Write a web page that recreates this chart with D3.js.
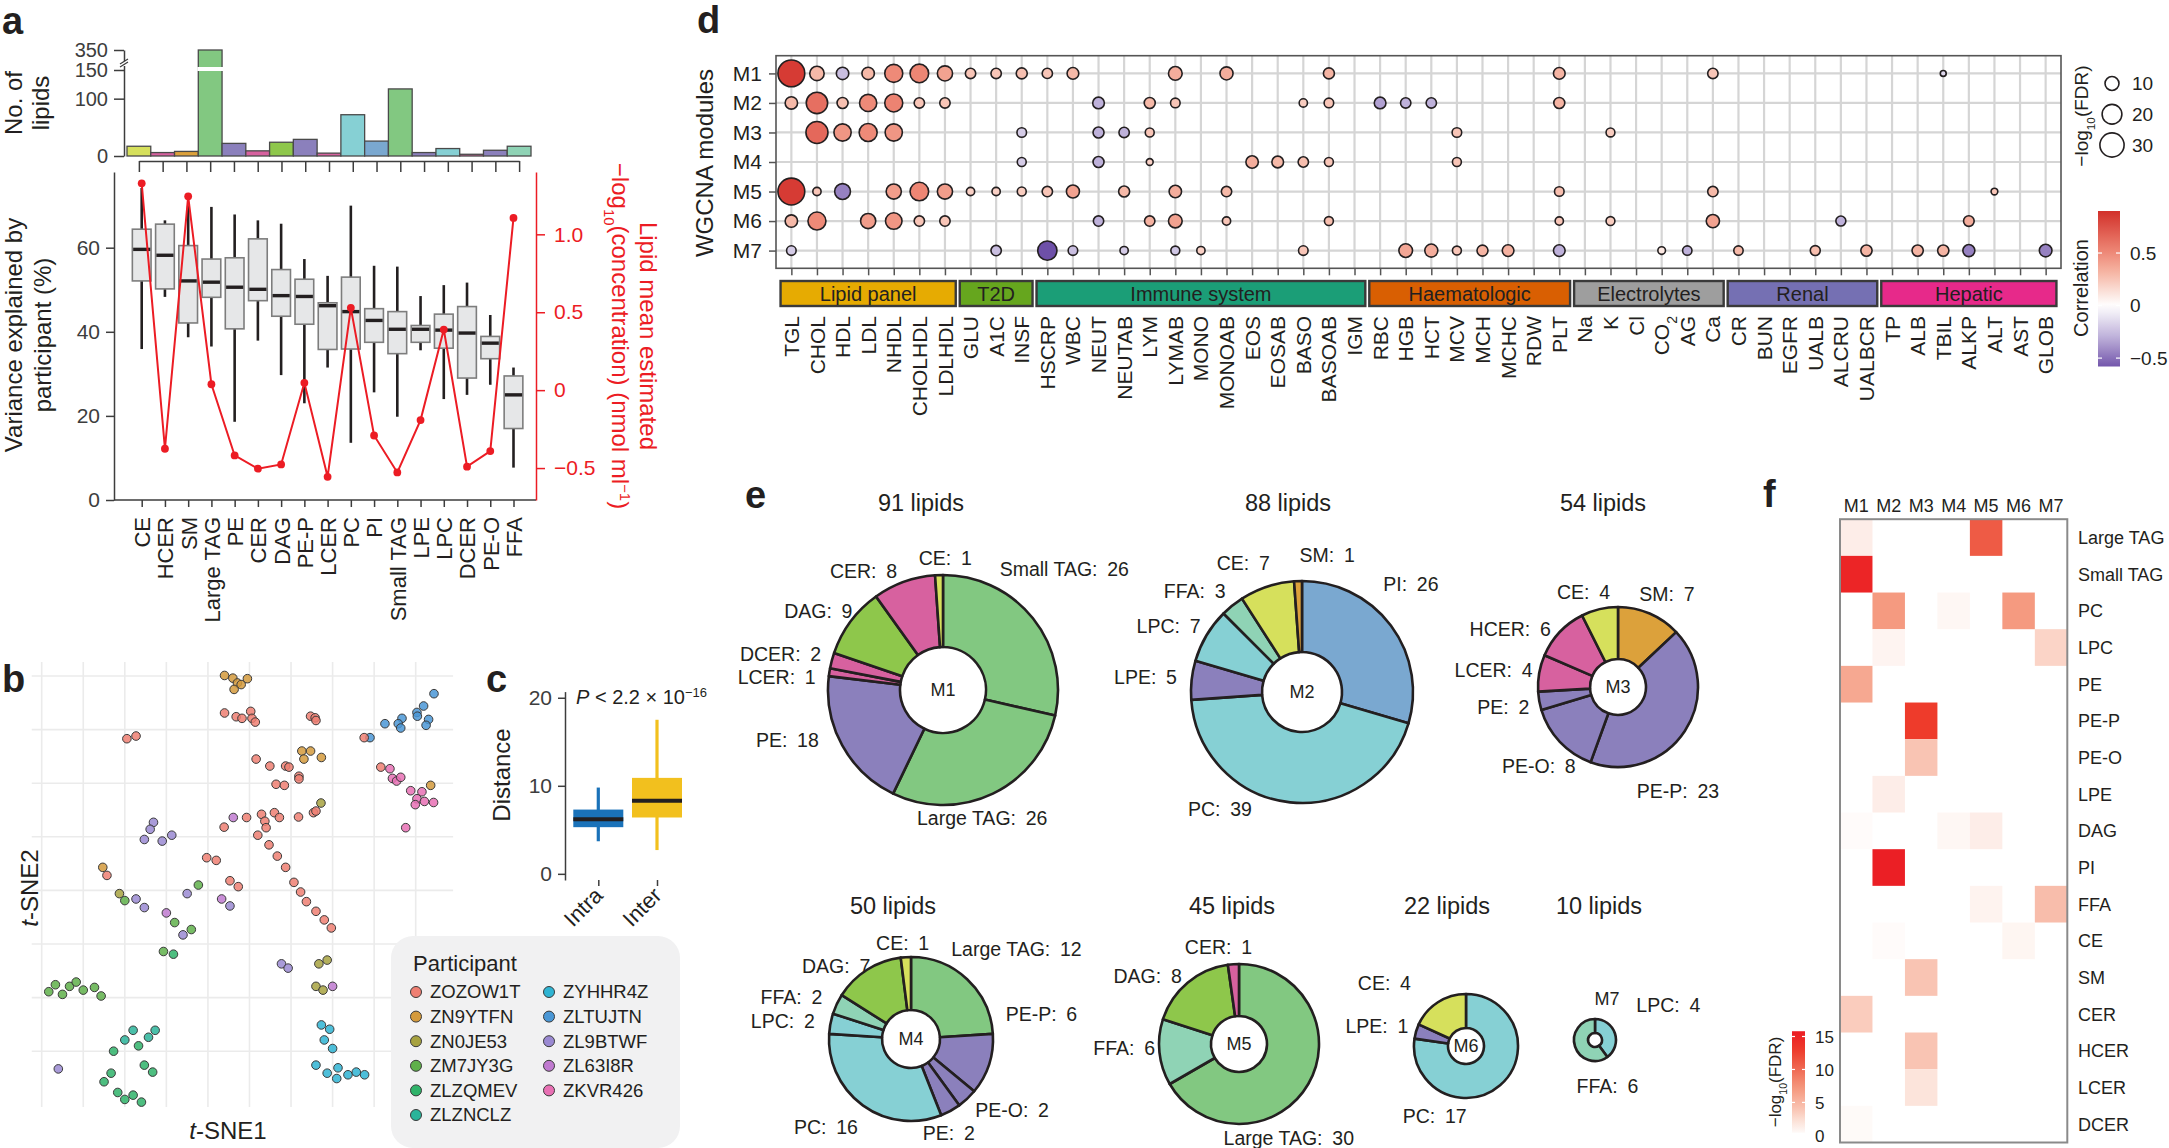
<!DOCTYPE html>
<html>
<head>
<meta charset="utf-8">
<script src="https://cdn.jsdelivr.net/npm/d3@7"></script>
<style>
  body { margin: 0; background: #fff; }
  svg { display: block; }
</style>
</head>
<body>
<script>
// ---------- data ----------
const lipidClasses = ["CE", "HCER", "SM", "Large TAG", "PE", "CER", "DAG", "PE-P", "LCER", "PC", "PI", "Small TAG", "LPE", "LPC", "DCER", "PE-O", "FFA"];
const lipidCounts = [17, 6, 8, 350, 22, 9, 24, 29, 5, 72, 26, 117, 6, 13, 3, 10, 17];
// [lower whisker, q1, median, q3, upper whisker]
const varianceBoxes = [
  [35.9, 52.1, 59.6, 64.4, 74.2], [48.3, 50.2, 58.2, 65.6, 66.5], [38.7, 42.1, 52.1, 60.5, 70.0],
  [36.5, 48.2, 51.8, 57.3, 69.7], [18.6, 40.7, 50.6, 57.6, 67.9], [37.9, 47.4, 50.1, 62.1, 66.5],
  [29.7, 43.7, 48.6, 54.8, 65.7], [23.0, 41.8, 48.4, 52.5, 57.3], [31.5, 35.8, 46.2, 46.9, 53.3],
  [13.6, 35.9, 44.8, 53.0, 70.0], [25.6, 37.5, 42.7, 45.5, 55.7], [19.8, 34.8, 40.6, 44.8, 55.5],
  [35.6, 37.5, 40.6, 41.5, 48.5], [24.0, 36.1, 40.4, 44.2, 51.1], [25.0, 29.0, 39.7, 46.0, 51.7],
  [27.4, 33.6, 37.3, 38.9, 44.0], [7.7, 17.0, 25.0, 29.5, 31.5]
];
const meanConc = [1.327, -0.376, 1.244, 0.038, -0.419, -0.504, -0.477, 0.047, -0.556, 0.528, -0.291, -0.528, -0.192, 0.389, -0.491, -0.391, 1.105];

const participants = ["ZOZOW1T", "ZN9YTFN", "ZN0JE53", "ZM7JY3G", "ZLZQMEV", "ZLZNCLZ", "ZYHHR4Z", "ZLTUJTN", "ZL9BTWF", "ZL63I8R", "ZKVR426"];
// [t-SNE1, t-SNE2, participant index]
const tsnePoints = [
  [-19.5, 28.3, 0], [-17.3, 28.8, 0],
  [4.0, 40.1, 1], [6.0, 39.6, 1], [7.1, 38.7, 1], [9.5, 39.5, 1], [8.0, 38.4, 1], [6.3, 37.5, 1],
  [4.0, 33.1, 0], [6.8, 32.4, 0], [8.2, 32.1, 0], [10.3, 33.4, 0], [10.6, 32.1, 0], [11.4, 31.4, 0],
  [24.7, 32.5, 0], [25.8, 32.2, 0], [26.0, 31.7, 0],
  [54.4, 36.7, 7], [51.9, 34.4, 7], [50.3, 33.2, 7], [50.4, 32.5, 7], [53.1, 31.9, 7], [52.5, 30.8, 7],
  [46.7, 32.1, 7], [45.8, 31.1, 7], [46.4, 30.3, 7], [42.6, 31.1, 7], [39.0, 28.5, 7],
  [37.6, 28.5, 0],
  [22.6, 26.0, 1], [24.7, 26.0, 1], [23.1, 24.5, 1], [27.3, 24.8, 1],
  [11.6, 24.5, 0], [14.9, 23.2, 0], [18.7, 23.2, 0], [19.5, 23.0, 0], [21.9, 21.3, 0], [21.9, 20.8, 0],
  [16.4, 19.8, 0], [18.4, 19.6, 0],
  [41.6, 23.0, 0], [43.8, 22.7, 10], [44.4, 20.9, 10], [45.4, 20.4, 10], [46.4, 21.1, 10],
  [53.6, 19.6, 1],
  [48.8, 18.6, 10], [51.5, 18.4, 10], [50.3, 17.1, 10], [49.9, 16.0, 10], [52.1, 16.6, 10], [54.3, 16.4, 10], [47.6, 11.7, 10],
  [27.2, 16.3, 2],
  [25.4, 14.5, 0], [26.0, 14.8, 0], [21.8, 13.7, 0],
  [9.3, 13.6, 0], [12.9, 14.2, 0], [13.7, 12.9, 0], [16.0, 14.5, 0], [17.2, 13.6, 0], [14.0, 11.7, 0], [3.9, 11.8, 0],
  [6.1, 13.6, 9],
  [-13.1, 12.7, 8], [-13.9, 11.4, 8], [-15.3, 9.5, 8], [-11.0, 9.2, 8], [-8.7, 10.3, 8],
  [-25.3, 4.3, 1], [-24.3, 2.8, 0], [-21.3, -0.6, 2], [-20.0, -1.9, 3],
  [-17.3, -1.6, 8], [-15.3, -3.2, 8], [-10.0, -4.2, 9], [-8.0, -6.0, 3], [-6.0, -8.3, 8], [-4.0, -7.3, 3],
  [-10.7, -11.4, 3], [-8.3, -11.9, 4], [-2.3, 1.0, 3], [-5.0, -0.6, 8],
  [-0.3, 6.1, 0], [2.0, 5.6, 0], [5.3, 1.8, 0], [7.3, 0.7, 0],
  [12.0, 10.3, 0], [14.7, 8.5, 0], [16.7, 6.4, 0], [18.7, 4.3, 0], [20.7, 1.5, 0], [22.3, -0.3, 0],
  [23.7, -2.1, 0], [26.0, -3.9, 0], [28.0, -5.5, 0], [29.7, -7.0, 0],
  [3.3, -1.6, 9], [5.3, -2.9, 8],
  [17.7, -13.7, 8], [19.3, -14.5, 8], [26.7, -13.7, 2], [28.7, -13.0, 2], [26.0, -17.9, 2], [27.7, -18.6, 2], [30.0, -17.9, 9],
  [-38.3, -18.9, 3], [-36.7, -17.6, 3], [-35.0, -19.4, 3], [-33.3, -17.9, 3], [-31.7, -17.1, 3], [-30.0, -18.6, 3],
  [-27.3, -18.1, 3], [-25.7, -19.7, 3],
  [-25.0, -35.7, 4], [-23.3, -34.1, 4], [-21.7, -37.7, 4], [-20.0, -39.0, 4], [-18.0, -38.2, 4], [-16.0, -39.5, 4],
  [-22.7, -30.0, 4], [-20.0, -27.9, 5], [-18.0, -26.1, 5], [-16.7, -29.0, 4], [-14.3, -27.4, 5], [-12.7, -26.1, 5],
  [-15.3, -32.6, 4], [-13.3, -33.9, 4],
  [-36.0, -33.3, 8],
  [27.3, -25.1, 6], [29.3, -25.9, 6], [28.0, -27.9, 6], [30.0, -29.5, 6], [26.0, -32.6, 6], [28.7, -34.1, 6],
  [31.3, -33.1, 6], [33.7, -34.4, 6], [35.7, -33.9, 6], [37.7, -34.4, 6], [31.0, -35.1, 6]
];

const distGroups = ["Intra", "Inter"];
const distBoxes = [[3.7, 5.3, 6.2, 7.3, 9.8], [2.7, 6.4, 8.3, 10.9, 17.5]];

const clinicalVars = ["TGL", "CHOL", "HDL", "LDL", "NHDL", "CHOLHDL", "LDLHDL", "GLU", "A1C", "INSF",
  "HSCRP", "WBC", "NEUT", "NEUTAB", "LYM", "LYMAB", "MONO", "MONOAB", "EOS", "EOSAB", "BASO", "BASOAB", "IGM",
  "RBC", "HGB", "HCT", "MCV", "MCH", "MCHC", "RDW", "PLT", "Na", "K", "Cl", "CO2", "AG", "Ca",
  "CR", "BUN", "EGFR", "UALB", "ALCRU", "UALBCR", "TP", "ALB", "TBIL", "ALKP", "ALT", "AST", "GLOB"];
const clinicalGroups = [
  ["Lipid panel", "TGL", "LDLHDL"], ["T2D", "GLU", "INSF"], ["Immune system", "HSCRP", "IGM"],
  ["Haematologic", "RBC", "PLT"], ["Electrolytes", "Na", "Ca"], ["Renal", "CR", "UALBCR"], ["Hepatic", "TP", "GLOB"]
];
const moduleNames = ["M1", "M2", "M3", "M4", "M5", "M6", "M7"];
// [module, variable, -log10(FDR), correlation]
const moduleAssoc = [
  ["M1", "TGL", 36.8, 0.85], ["M1", "CHOL", 10.6, 0.3], ["M1", "HDL", 7.9, -0.25], ["M1", "LDL", 7.9, 0.3],
  ["M1", "NHDL", 16.6, 0.5], ["M1", "CHOLHDL", 17.7, 0.52], ["M1", "LDLHDL", 11.8, 0.4], ["M1", "GLU", 5.5, 0.25],
  ["M1", "A1C", 5.5, 0.25], ["M1", "INSF", 6.2, 0.27], ["M1", "HSCRP", 5.4, 0.25], ["M1", "WBC", 7, 0.3],
  ["M1", "LYMAB", 9.6, 0.35], ["M1", "MONOAB", 8.7, 0.35], ["M1", "BASOAB", 6.2, 0.32], ["M1", "PLT", 7, 0.32],
  ["M1", "Ca", 5.5, 0.25], ["M1", "TBIL", 1.8, -0.15],
  ["M2", "TGL", 7.9, 0.3], ["M2", "CHOL", 23.4, 0.62], ["M2", "HDL", 6.2, 0.27], ["M2", "LDL", 15.2, 0.5],
  ["M2", "NHDL", 16.6, 0.53], ["M2", "CHOLHDL", 5.5, 0.25], ["M2", "LDLHDL", 5.5, 0.25], ["M2", "NEUT", 7, -0.3],
  ["M2", "LYM", 6.2, 0.3], ["M2", "LYMAB", 4.7, 0.25], ["M2", "BASO", 3.5, 0.22], ["M2", "BASOAB", 4.7, 0.25],
  ["M2", "RBC", 7, -0.35], ["M2", "HGB", 5.5, -0.3], ["M2", "HCT", 5.5, -0.3], ["M2", "PLT", 6.2, 0.32],
  ["M3", "CHOL", 24.8, 0.65], ["M3", "HDL", 15.2, 0.45], ["M3", "LDL", 16.6, 0.5], ["M3", "NHDL", 15.2, 0.45],
  ["M3", "INSF", 4.7, -0.2], ["M3", "NEUT", 6.2, -0.3], ["M3", "NEUTAB", 5.5, -0.3], ["M3", "LYM", 4.1, 0.25],
  ["M3", "MCV", 4.7, 0.25], ["M3", "K", 4, 0.22],
  ["M4", "INSF", 4.1, -0.2], ["M4", "NEUT", 6.2, -0.3], ["M4", "LYM", 2.4, 0.2], ["M4", "EOS", 7.9, 0.35],
  ["M4", "EOSAB", 7, 0.3], ["M4", "BASO", 5.5, 0.28], ["M4", "BASOAB", 4.1, 0.25], ["M4", "MCV", 4.1, 0.25],
  ["M5", "TGL", 36.8, 0.85], ["M5", "CHOL", 3.5, 0.25], ["M5", "HDL", 12.8, -0.45], ["M5", "NHDL", 11.8, 0.42],
  ["M5", "CHOLHDL", 17.7, 0.52], ["M5", "LDLHDL", 11.8, 0.42], ["M5", "GLU", 3.5, 0.2], ["M5", "A1C", 3.5, 0.2],
  ["M5", "INSF", 4.1, 0.22], ["M5", "HSCRP", 5.5, 0.25], ["M5", "WBC", 8.7, 0.4], ["M5", "NEUTAB", 6.2, 0.3],
  ["M5", "LYMAB", 7.9, 0.35], ["M5", "MONOAB", 5.5, 0.3], ["M5", "PLT", 4.7, 0.28], ["M5", "Ca", 5.5, 0.3],
  ["M5", "ALT", 2.3, 0.25],
  ["M6", "TGL", 7.9, 0.3], ["M6", "CHOL", 16.6, 0.5], ["M6", "LDL", 11.8, 0.42], ["M6", "NHDL", 14, 0.45],
  ["M6", "CHOLHDL", 5.5, 0.25], ["M6", "LDLHDL", 5.5, 0.25], ["M6", "NEUT", 5.5, -0.3], ["M6", "LYM", 5.5, 0.33],
  ["M6", "LYMAB", 9.6, 0.4], ["M6", "MONOAB", 3.5, 0.25], ["M6", "BASOAB", 4.1, 0.28], ["M6", "PLT", 3.5, 0.25],
  ["M6", "K", 4, 0.22], ["M6", "Ca", 9, 0.4], ["M6", "ALCRU", 5.1, -0.3], ["M6", "ALKP", 5.8, 0.35],
  ["M7", "TGL", 4.7, -0.2], ["M7", "A1C", 5.5, -0.25], ["M7", "HSCRP", 18.9, -0.6], ["M7", "WBC", 4.7, -0.25],
  ["M7", "NEUTAB", 3.5, -0.2], ["M7", "LYMAB", 4.1, -0.22], ["M7", "MONO", 3.5, 0.2], ["M7", "BASO", 4.7, 0.25],
  ["M7", "HGB", 9.6, 0.38], ["M7", "HCT", 8.7, 0.35], ["M7", "MCV", 4.1, 0.25], ["M7", "MCH", 6.2, 0.32],
  ["M7", "MCHC", 7, 0.33], ["M7", "PLT", 7, -0.3], ["M7", "CO2", 3, 0.1], ["M7", "AG", 4.5, -0.3],
  ["M7", "CR", 4.5, 0.3], ["M7", "UALB", 5.1, 0.28], ["M7", "UALBCR", 6.5, 0.32], ["M7", "ALB", 6.5, 0.32],
  ["M7", "TBIL", 6.5, 0.32], ["M7", "ALKP", 7.4, -0.45], ["M7", "GLOB", 8.2, -0.45]
];
const sizeLegendValues = [10, 20, 30];
const corrTicks = [-0.5, 0, 0.5];

// module composition, clockwise from 12 o'clock
const compM1 = [["Small TAG", 26], ["Large TAG", 26], ["PE", 18], ["LCER", 1], ["DCER", 2], ["DAG", 9], ["CER", 8], ["CE", 1]];
const compM2 = [["PI", 26], ["PC", 39], ["LPE", 5], ["LPC", 7], ["FFA", 3], ["CE", 7], ["SM", 1]];
const compM3 = [["SM", 7], ["PE-P", 23], ["PE-O", 8], ["PE", 2], ["LCER", 4], ["HCER", 6], ["CE", 4]];
const compM4 = [["Large TAG", 12], ["PE-P", 6], ["PE-O", 2], ["PE", 2], ["PC", 16], ["LPC", 2], ["FFA", 2], ["DAG", 7], ["CE", 1]];
const compM5 = [["Large TAG", 30], ["FFA", 6], ["DAG", 8], ["CER", 1]];
const compM6 = [["PC", 17], ["LPE", 1], ["CE", 4]];
const compM7 = [["LPC", 4], ["FFA", 6]];

const enrichClasses = ["Large TAG", "Small TAG", "PC", "LPC", "PE", "PE-P", "PE-O", "LPE", "DAG", "PI", "FFA", "CE", "SM", "CER", "HCER", "LCER", "DCER"];
// [lipid class, module, -log10(FDR)]
const enrichCells = [
  ["Large TAG", "M1", 1.3], ["Large TAG", "M5", 11], ["Small TAG", "M1", 15], ["PC", "M2", 7], ["PC", "M4", 0.6],
  ["PC", "M6", 7], ["LPC", "M2", 0.8], ["LPC", "M7", 3], ["PE", "M1", 6], ["PE-P", "M3", 13], ["PE-O", "M3", 4],
  ["LPE", "M2", 1.3], ["DAG", "M1", 0.3], ["DAG", "M4", 0.6], ["DAG", "M5", 1.3], ["PI", "M2", 15.5],
  ["FFA", "M5", 0.9], ["FFA", "M7", 4.5], ["CE", "M2", 0.3], ["CE", "M6", 0.7], ["SM", "M3", 4], ["CER", "M1", 3.5],
  ["HCER", "M3", 4], ["LCER", "M3", 2], ["DCER", "M1", 0.4]
];
const fdrTicks = [0, 5, 10, 15];

// ---------- styles ----------
const ink = "#231f20";
const axisInk = "#3d3d3d";
const red = "#ec1c24";
const classColor = {
  CE: "#d6e05c", HCER: "#d7619f", SM: "#dca13b", "Large TAG": "#82c881", PE: "#8b80bc", CER: "#d7619f",
  DAG: "#8ec74b", "PE-P": "#8b80bc", LCER: "#d7619f", PC: "#86d0d4", PI: "#7aa8d0", "Small TAG": "#82c881",
  LPE: "#8b80bc", LPC: "#86d0d4", DCER: "#d7619f", "PE-O": "#8b80bc", FFA: "#8fd3b5"
};
const participantColor = ["#ef7f72", "#d49a3c", "#a7a23f", "#5fb04a", "#2fb36a", "#2ab49a", "#2fb4d3", "#4a97d6", "#9a89d2", "#c07ad0", "#e870b4"];
const groupColor = {
  "Lipid panel": "#e6ab02", T2D: "#66a61e", "Immune system": "#1b9e77", Haematologic: "#d95f02",
  Electrolytes: "#9e9e9e", Renal: "#7570b3", Hepatic: "#e7298a"
};

const svg = d3.select("body").append("svg")
  .attr("width", 2169).attr("height", 1148).attr("viewBox", "0 0 2169 1148")
  .style("font-family", "'Liberation Sans', Arial, sans-serif");

function styleAxis(g, color, size) {
  g.attr("font-family", null).attr("font-size", size);
  g.select(".domain").attr("stroke", color).attr("stroke-width", 1.5);
  g.selectAll(".tick line").attr("stroke", color).attr("stroke-width", 1.5);
  g.selectAll(".tick text").attr("fill", color);
}

function letter(t, x, y) {
  svg.append("text").attr("x", x).attr("y", y).attr("font-size", 38).attr("font-weight", 700)
    .attr("fill", ink).text(t);
}

// rotated text; parts = [[string, "sub"|"sup"|null], ...]
function rotText(x, y, angle, parts, size, fill) {
  const t = svg.append("text").attr("transform", `translate(${x},${y}) rotate(${angle})`)
    .attr("text-anchor", "middle").attr("font-size", size).attr("fill", fill || ink);
  parts.forEach(([s, kind]) => {
    const sp = t.append("tspan").text(s);
    if (kind === "sub") sp.attr("baseline-shift", "sub").attr("font-size", size * 0.62);
    if (kind === "sup") sp.attr("baseline-shift", "super").attr("font-size", size * 0.62);
  });
  return t;
}

// ================= panel a =================
letter("a", 2, 34);
const xTop = d3.scaleBand().domain(lipidClasses).range([127, 531]);
const yTop = d3.scaleLinear().domain([0, 150, 350]).range([156, 70, 50]);
const topBars = svg.append("g");
topBars.selectAll("rect").data(lipidClasses).join("rect")
  .attr("x", d => xTop(d)).attr("width", xTop.bandwidth())
  .attr("y", (d, i) => yTop(lipidCounts[i]))
  .attr("height", (d, i) => yTop(0) - yTop(lipidCounts[i]))
  .attr("fill", d => classColor[d]).attr("stroke", "#4a4a4a").attr("stroke-width", 1.3);
topBars.selectAll("rect.gap").data(lipidClasses.filter((d, i) => lipidCounts[i] > 150)).join("rect")
  .attr("class", "gap").attr("x", d => xTop(d) - 1).attr("width", xTop.bandwidth() + 2)
  .attr("y", yTop(150) - 3).attr("height", 4).attr("fill", "#fff");

const gTopY = svg.append("g").attr("transform", "translate(124,0)")
  .call(d3.axisLeft(yTop).tickValues([0, 100, 150, 350]).tickSize(10).tickSizeOuter(0).tickPadding(6));
styleAxis(gTopY, axisInk, 20);
gTopY.append("rect").attr("x", -4).attr("y", yTop(150) - 9).attr("width", 8).attr("height", 5).attr("fill", "#fff");
gTopY.append("path").attr("d", `M-4,${yTop(150) - 3} L4,${yTop(150) - 8} M-4,${yTop(150) - 6} L4,${yTop(150) - 11}`)
  .attr("stroke", axisInk).attr("stroke-width", 1.3).attr("fill", "none");

const bw = xTop.bandwidth();
const xTopPts = d3.scalePoint().domain(lipidClasses)
  .range([xTop(lipidClasses[0]) + bw / 2, xTop(lipidClasses[lipidClasses.length - 1]) + bw / 2]);
const gTopX = svg.append("g").attr("transform", "translate(0,161)")
  .call(d3.axisBottom(xTopPts).tickSize(11).tickSizeOuter(0).tickFormat(""));
styleAxis(gTopX, axisInk, 21);

rotText(21.5, 103, -90, [["No. of", null]], 24);
rotText(48.5, 103, -90, [["lipids", null]], 24);

// boxplots
const xBox = d3.scalePoint().domain(lipidClasses).range([141.7, 513.5]);
const yVar = d3.scaleLinear().domain([0, 78]).range([500, 172]);
const yRed = d3.scaleLinear().domain([-0.705, 1.4]).range([500, 172]);

const gVarY = svg.append("g").attr("transform", "translate(114,0)")
  .call(d3.axisLeft(yVar).tickValues([0, 20, 40, 60]).tickSize(8).tickSizeOuter(0).tickPadding(6));
styleAxis(gVarY, axisInk, 21);
svg.append("line").attr("x1", 114).attr("x2", 536).attr("y1", yVar(0)).attr("y2", yVar(0))
  .attr("stroke", axisInk).attr("stroke-width", 1.5);
const gVarX = svg.append("g").attr("transform", `translate(0,${yVar(0)})`)
  .call(d3.axisBottom(xBox).tickSize(7).tickSizeOuter(0));
styleAxis(gVarX, axisInk, 22);
gVarX.select(".domain").remove();
gVarX.selectAll(".tick text").attr("fill", ink)
  .attr("transform", "rotate(-90)").attr("text-anchor", "end")
  .attr("x", -17).attr("y", 0).attr("dy", "0.36em");

const boxW = 18.7;
const gBoxes = svg.append("g");
lipidClasses.forEach((c, i) => {
  const [lo, q1, med, q3, hi] = varianceBoxes[i];
  const cx = xBox(c);
  gBoxes.append("line").attr("x1", cx).attr("x2", cx).attr("y1", yVar(lo)).attr("y2", yVar(hi))
    .attr("stroke", ink).attr("stroke-width", 2.6);
  gBoxes.append("rect").attr("x", cx - boxW / 2).attr("width", boxW)
    .attr("y", yVar(q3)).attr("height", yVar(q1) - yVar(q3))
    .attr("fill", "#e6e7e8").attr("stroke", "#7d7d7d").attr("stroke-width", 1.6);
  gBoxes.append("line").attr("x1", cx - boxW / 2 + 0.8).attr("x2", cx + boxW / 2 - 0.8)
    .attr("y1", yVar(med)).attr("y2", yVar(med)).attr("stroke", ink).attr("stroke-width", 3.4);
});

const redLine = d3.line().x((d, i) => xBox(lipidClasses[i])).y(d => yRed(d));
svg.append("path").datum(meanConc).attr("d", redLine).attr("fill", "none")
  .attr("stroke", red).attr("stroke-width", 2);
svg.append("g").selectAll("circle").data(meanConc).join("circle")
  .attr("cx", (d, i) => xBox(lipidClasses[i])).attr("cy", d => yRed(d)).attr("r", 3.9).attr("fill", red);

const gRed = svg.append("g").attr("transform", "translate(536,0)")
  .call(d3.axisRight(yRed).tickValues([-0.5, 0, 0.5, 1.0]).tickSize(9).tickSizeOuter(0).tickPadding(9)
    .tickFormat(v => v === 0 ? "0" : d3.format(".1f")(v)));
styleAxis(gRed, red, 21);

rotText(21.5, 335, -90, [["Variance explained by", null]], 24);
rotText(50.5, 335, -90, [["participant (%)", null]], 24);
rotText(639.5, 336, 90, [["Lipid mean estimated", null]], 24, red);
rotText(611.5, 336, 90, [["\u2212log", null], ["10", "sub"], ["(concentration) (nmol ml", null], ["\u22121", "sup"], [")", null]], 24, red);

// ================= panel b =================
letter("b", 2, 692);
const bX = d3.scaleLinear().domain([-40, 50]).range([41.7, 415.7]);
const bY = d3.scaleLinear().domain([40, -30]).range([676, 1051.2]);
const bLeft = bX(-42.4), bRight = bX(59), bTop = bY(42.6), bBottom = bY(-40.4);
const gGrid = svg.append("g").attr("stroke", "#ebebeb").attr("stroke-width", 1.6);
gGrid.selectAll("line.v").data(d3.range(-40, 51, 10)).join("line").attr("class", "v")
  .attr("x1", d => bX(d)).attr("x2", d => bX(d)).attr("y1", bTop).attr("y2", bBottom);
gGrid.selectAll("line.h").data(d3.range(-30, 41, 10)).join("line").attr("class", "h")
  .attr("x1", bLeft).attr("x2", bRight).attr("y1", d => bY(d)).attr("y2", d => bY(d));
svg.append("g").selectAll("circle").data(tsnePoints).join("circle")
  .attr("cx", d => bX(d[0])).attr("cy", d => bY(d[1])).attr("r", 4.3)
  .attr("fill", d => participantColor[d[2]]).attr("fill-opacity", 0.85)
  .attr("stroke", "#3a3a3a").attr("stroke-width", 1);

const t1 = svg.append("text").attr("x", 228).attr("y", 1139).attr("text-anchor", "middle").attr("font-size", 24).attr("fill", ink);
t1.append("tspan").attr("font-style", "italic").text("t");
t1.append("tspan").text("-SNE1");
const t2 = svg.append("text").attr("transform", "translate(38,888) rotate(-90)").attr("text-anchor", "middle").attr("font-size", 24).attr("fill", ink);
t2.append("tspan").attr("font-style", "italic").text("t");
t2.append("tspan").text("-SNE2");

const leg = svg.append("g");
leg.append("rect").attr("x", 391).attr("y", 936).attr("width", 289).attr("height", 212).attr("rx", 22)
  .attr("fill", "#f1f1f2");
leg.append("text").attr("x", 413).attr("y", 971).attr("font-size", 22).attr("fill", ink).text("Participant");
participants.forEach((p, i) => {
  const col = i < 6 ? 0 : 1;
  const row = i < 6 ? i : i - 6;
  const cx = col === 0 ? 416 : 549;
  const cy = 992 + row * 24.6;
  leg.append("circle").attr("cx", cx).attr("cy", cy).attr("r", 5.5)
    .attr("fill", participantColor[i]).attr("stroke", "#3a3a3a").attr("stroke-width", 1);
  leg.append("text").attr("x", cx + 14).attr("y", cy).attr("dy", "0.35em").attr("font-size", 18.5)
    .attr("fill", ink).text(p);
});

// ================= panel c =================
letter("c", 486, 692);
const cY = d3.scaleLinear().domain([-0.7, 20.7]).range([880, 691.6]);
const cX = d3.scalePoint().domain(distGroups).range([598.3, 657]);
const gCY = svg.append("g").attr("transform", "translate(565,0)")
  .call(d3.axisLeft(cY).tickValues([0, 10, 20]).tickSize(7).tickSizeOuter(0).tickPadding(6));
styleAxis(gCY, axisInk, 21);
const gCX = svg.append("g").attr("transform", "translate(0,880)")
  .call(d3.axisBottom(cX).tickSize(6).tickSizeOuter(0));
styleAxis(gCX, axisInk, 22);
gCX.select(".domain").remove();
gCX.selectAll(".tick text").attr("fill", ink).attr("text-anchor", "end")
  .attr("transform", "rotate(-45)").attr("x", -8).attr("y", 8).attr("dy", "0.35em");
const distColor = ["#1a72b9", "#f2c01e"];
distGroups.forEach((gname, i) => {
  const [lo, q1, med, q3, hi] = distBoxes[i];
  const cx = cX(gname), w = 50;
  svg.append("line").attr("x1", cx).attr("x2", cx).attr("y1", cY(lo)).attr("y2", cY(hi))
    .attr("stroke", distColor[i]).attr("stroke-width", 3.2);
  svg.append("rect").attr("x", cx - w / 2).attr("width", w).attr("y", cY(q3)).attr("height", cY(q1) - cY(q3))
    .attr("fill", distColor[i]);
  svg.append("line").attr("x1", cx - w / 2).attr("x2", cx + w / 2).attr("y1", cY(med)).attr("y2", cY(med))
    .attr("stroke", ink).attr("stroke-width", 4);
});
const pTxt = svg.append("text").attr("x", 576).attr("y", 704).attr("font-size", 20).attr("fill", ink);
pTxt.append("tspan").attr("font-style", "italic").text("P");
pTxt.append("tspan").text(" < 2.2 \u00d7 10");
pTxt.append("tspan").attr("baseline-shift", "super").attr("font-size", 13).text("\u221216");
rotText(510, 775, -90, [["Distance", null]], 24);

// ================= panel d =================
letter("d", 697, 33);
const dX = d3.scalePoint().domain(clinicalVars).range([776, 2061]).padding(0.6);
const dY = d3.scalePoint().domain(moduleNames).range([55.7, 268.3]).padding(0.6);
const dTop = 55.7, dBottom = 268.3, dLeft = 776, dRight = 2061;
const dColor = d3.scaleLinear().domain([-0.6, -0.3, 0, 0.3, 0.5, 0.9])
  .range(["#6e50a8", "#beb1da", "#ffffff", "#f6b9a8", "#ee8a78", "#d2302a"]);
const dSize = d3.scaleSqrt().domain([0, 30]).range([0, 12.1]);

const gD = svg.append("g");
gD.selectAll("line.v").data(clinicalVars).join("line").attr("class", "v")
  .attr("x1", d => dX(d)).attr("x2", d => dX(d)).attr("y1", dTop).attr("y2", dBottom)
  .attr("stroke", "#d5d5d5").attr("stroke-width", 2.2);
gD.selectAll("line.h").data(moduleNames).join("line").attr("class", "h")
  .attr("x1", dLeft).attr("x2", dRight).attr("y1", d => dY(d)).attr("y2", d => dY(d))
  .attr("stroke", "#d5d5d5").attr("stroke-width", 2.2);
gD.append("rect").attr("x", dLeft).attr("y", dTop).attr("width", dRight - dLeft).attr("height", dBottom - dTop)
  .attr("fill", "none").attr("stroke", "#555").attr("stroke-width", 1.6);
const gDY = svg.append("g").attr("transform", `translate(${dLeft},0)`)
  .call(d3.axisLeft(dY).tickSize(7).tickPadding(7));
styleAxis(gDY, "#555", 21);
gDY.select(".domain").remove();
gDY.selectAll(".tick text").attr("fill", ink);
const gDX = svg.append("g").attr("transform", `translate(0,${dBottom})`)
  .call(d3.axisBottom(dX).tickSize(7).tickFormat(""));
styleAxis(gDX, "#555", 21);
gDX.select(".domain").remove();

gD.selectAll("circle").data(moduleAssoc).join("circle")
  .attr("cx", d => dX(d[1])).attr("cy", d => dY(d[0])).attr("r", d => dSize(d[2]))
  .attr("fill", d => dColor(d[3])).attr("stroke", ink).attr("stroke-width", 1.6);

const step = dX.step();
clinicalGroups.forEach(([name, first, last]) => {
  const x0 = dX(first) - step / 2 + 2, x1 = dX(last) + step / 2 - 2;
  svg.append("rect").attr("x", x0).attr("y", 281).attr("width", x1 - x0).attr("height", 25)
    .attr("fill", groupColor[name]).attr("stroke", "#3a3a3a").attr("stroke-width", 2.4);
  svg.append("text").attr("x", (x0 + x1) / 2).attr("y", 293.5).attr("dy", "0.36em").attr("text-anchor", "middle")
    .attr("font-size", 20).attr("fill", ink).text(name);
});
const gLab = svg.append("g");
clinicalVars.forEach(v => {
  const t = gLab.append("text").attr("transform", `translate(${dX(v)},316) rotate(-90)`)
    .attr("text-anchor", "end").attr("dy", "0.36em").attr("font-size", 21).attr("fill", ink);
  if (v === "CO2") {
    t.append("tspan").text("CO");
    t.append("tspan").attr("baseline-shift", "sub").attr("font-size", 14).text("2");
  } else t.text(v);
});
rotText(713, 163, -90, [["WGCNA modules", null]], 24);

// size legend
const sizeY = d3.scalePoint().domain(sizeLegendValues).range([83.5, 145]);
sizeLegendValues.forEach(v => {
  svg.append("circle").attr("cx", 2112).attr("cy", sizeY(v)).attr("r", dSize(v))
    .attr("fill", "#fff").attr("stroke", ink).attr("stroke-width", 1.6);
  svg.append("text").attr("x", 2132).attr("y", sizeY(v)).attr("dy", "0.36em").attr("font-size", 19)
    .attr("fill", ink).text(v);
});
rotText(2088, 116, -90, [["\u2212log", null], ["10", "sub"], ["(FDR)", null]], 19);

// colour bar
const cbD = d3.scaleLinear().domain([-0.58, 0.9]).range([366.5, 211]);
const defs = svg.append("defs");
const gradD = defs.append("linearGradient").attr("id", "gradD").attr("x1", 0).attr("x2", 0).attr("y1", 1).attr("y2", 0);
d3.range(0, 1.0001, 0.05).forEach(t => {
  const v = -0.58 + t * 1.48;
  gradD.append("stop").attr("offset", t).attr("stop-color", dColor(v));
});
svg.append("rect").attr("x", 2098).attr("y", cbD(0.9)).attr("width", 22).attr("height", cbD(-0.58) - cbD(0.9))
  .attr("fill", "url(#gradD)");
corrTicks.forEach(v => {
  svg.append("line").attr("x1", 2098).attr("x2", 2102).attr("y1", cbD(v)).attr("y2", cbD(v)).attr("stroke", "#fff").attr("stroke-width", 1.2);
  svg.append("line").attr("x1", 2116).attr("x2", 2120).attr("y1", cbD(v)).attr("y2", cbD(v)).attr("stroke", "#fff").attr("stroke-width", 1.2);
  svg.append("text").attr("x", 2130).attr("y", cbD(v)).attr("dy", "0.36em").attr("font-size", 19).attr("fill", ink)
    .text(v === 0 ? "0" : d3.format(".1f")(v));
});
rotText(2088, 288, -90, [["Correlation", null]], 20);

// ================= panel e =================
letter("e", 745, 508);
const donutLayout = {
  M1: { comp: compM1, cx: 943, cy: 690, R: 115, r: 43, tx: 921, ty: 511 },
  M2: { comp: compM2, cx: 1302, cy: 692, R: 111, r: 40, tx: 1288, ty: 511 },
  M3: { comp: compM3, cx: 1618, cy: 687, R: 80, r: 28, tx: 1603, ty: 511 },
  M4: { comp: compM4, cx: 911, cy: 1039, R: 82, r: 29, tx: 893, ty: 914 },
  M5: { comp: compM5, cx: 1239, cy: 1044, R: 80, r: 28, tx: 1232, ty: 914 },
  M6: { comp: compM6, cx: 1466, cy: 1046, R: 52, r: 18, tx: 1447, ty: 914 },
  M7: { comp: compM7, cx: 1595, cy: 1040, R: 21, r: 7, tx: 1599, ty: 914 }
};
// label placement: [angle (deg, clockwise from top), distance from centre, anchor]
const labelPlace = {
  "M1|Small TAG": [25, 134, "start"], "M1|Large TAG": [163, 134, "middle"], "M1|PE": [248, 134, "end"],
  "M1|LCER": [276, 128, "end"], "M1|DCER": [286.5, 127, "end"], "M1|DAG": [311, 120, "end"],
  "M1|CER": [339, 128, "end"], "M1|CE": [1, 132, "middle"],
  "M2|PI": [37, 135, "start"], "M2|PC": [215, 143, "middle"], "M2|LPE": [277, 126, "end"],
  "M2|LPC": [303, 121, "end"], "M2|FFA": [323, 127, "end"], "M2|CE": [346, 133, "end"], "M2|SM": [359, 137, "start"],
  "M3|CE": [340, 101, "middle"], "M3|SM": [13, 95, "start"], "M3|HCER": [311, 89, "end"], "M3|LCER": [281, 87, "end"],
  "M3|PE": [257, 91, "end"], "M3|PE-O": [225, 112, "middle"], "M3|PE-P": [150, 120, "middle"],
  "M4|CE": [355, 96, "middle"], "M4|Large TAG": [24, 99, "start"], "M4|PE-P": [75, 98, "start"],
  "M4|PE-O": [138, 96, "start"], "M4|PE": [158, 101, "middle"], "M4|PC": [211, 103, "end"],
  "M4|DAG": [331, 84, "end"],
  "M5|CER": [348, 99, "middle"], "M5|DAG": [320, 89, "end"], "M5|FFA": [267, 84, "end"], "M5|Large TAG": [152, 106, "middle"],
  "M6|CE": [319, 84, "end"], "M6|LPE": [289, 61, "end"], "M6|PC": [204, 77, "middle"],
  "M7|LPC": [50, 54, "start"], "M7|FFA": [165, 48, "middle"]
};
const pie = d3.pie().sort(null).value(d => d[1]);
moduleNames.forEach(m => {
  const L = donutLayout[m];
  const arcs = pie(L.comp);
  const arc = d3.arc().innerRadius(L.r).outerRadius(L.R);
  const g = svg.append("g").attr("transform", `translate(${L.cx},${L.cy})`);
  g.selectAll("path").data(arcs).join("path").attr("d", arc)
    .attr("fill", d => classColor[d.data[0]]).attr("stroke", ink).attr("stroke-width", 2.6).attr("stroke-linejoin", "round");
  const total = d3.sum(L.comp, d => d[1]);
  svg.append("text").attr("x", L.tx).attr("y", L.ty).attr("text-anchor", "middle").attr("font-size", 23.5)
    .attr("fill", ink).text(`${total} lipids`);
  if (L.R > 30) {
    g.append("text").attr("dy", "0.36em").attr("text-anchor", "middle").attr("font-size", 18).attr("fill", ink).text(m);
  } else {
    g.append("text").attr("x", 12).attr("y", -L.R - 14).attr("text-anchor", "middle").attr("font-size", 18).attr("fill", ink).text(m);
  }
  arcs.forEach(a => {
    const p = labelPlace[`${m}|${a.data[0]}`];
    const ang = p ? p[0] * Math.PI / 180 : (a.startAngle + a.endAngle) / 2;
    const dist = p ? p[1] : L.R + 16;
    const s = Math.sin(ang);
    const anchor = p ? p[2] : (s > 0.35 ? "start" : s < -0.35 ? "end" : "middle");
    g.append("text").attr("x", Math.sin(ang) * dist).attr("y", -Math.cos(ang) * dist).attr("dy", "0.36em")
      .attr("text-anchor", anchor).attr("font-size", 19.5).attr("fill", ink)
      .text(`${a.data[0]}:\u2002${a.data[1]}`);
  });
});

// ================= panel f =================
letter("f", 1763, 507);
const fX = d3.scaleBand().domain(moduleNames).range([1840, 2067.3]);
const fY = d3.scaleBand().domain(enrichClasses).range([519.2, 1142.5]);
const fColor = d3.scaleLinear().domain([0, 2, 4, 7, 11, 13, 15.8])
  .range(["#ffffff", "#fce4db", "#f9c4b3", "#f59a80", "#ee5b45", "#ee3b2b", "#eb1c24"]);
svg.append("g").selectAll("rect").data(enrichCells).join("rect")
  .attr("x", d => fX(d[1])).attr("y", d => fY(d[0])).attr("width", fX.bandwidth()).attr("height", fY.bandwidth())
  .attr("fill", d => fColor(d[2]));
svg.append("rect").attr("x", 1840).attr("y", 519.2).attr("width", 227.3).attr("height", 623.3)
  .attr("fill", "none").attr("stroke", "#8a8a8a").attr("stroke-width", 2);
moduleNames.forEach(m => {
  svg.append("text").attr("x", fX(m) + fX.bandwidth() / 2).attr("y", 512).attr("text-anchor", "middle")
    .attr("font-size", 18).attr("fill", ink).text(m);
});
enrichClasses.forEach(c => {
  svg.append("text").attr("x", 2078).attr("y", fY(c) + fY.bandwidth() / 2).attr("dy", "0.36em")
    .attr("font-size", 18).attr("fill", ink).text(c);
});
const cbF = d3.scaleLinear().domain([0, 15]).range([1135.4, 1036.5]);
const gradF = defs.append("linearGradient").attr("id", "gradF").attr("x1", 0).attr("x2", 0).attr("y1", 1).attr("y2", 0);
d3.range(0, 1.0001, 0.05).forEach(t => {
  gradF.append("stop").attr("offset", t).attr("stop-color", fColor(0.4 + t * 15.4));
});
svg.append("rect").attr("x", 1792).attr("y", cbF(15.8)).attr("width", 13).attr("height", cbF(0.4) - cbF(15.8))
  .attr("fill", "url(#gradF)");
fdrTicks.forEach(v => {
  if (v > 0) {
    svg.append("line").attr("x1", 1792).attr("x2", 1795).attr("y1", cbF(v)).attr("y2", cbF(v)).attr("stroke", "#fff").attr("stroke-width", 1.2);
    svg.append("line").attr("x1", 1802).attr("x2", 1805).attr("y1", cbF(v)).attr("y2", cbF(v)).attr("stroke", "#fff").attr("stroke-width", 1.2);
  }
  svg.append("text").attr("x", 1815).attr("y", cbF(v)).attr("dy", "0.36em").attr("font-size", 17).attr("fill", ink).text(v);
});
rotText(1781, 1082, -90, [["\u2212log", null], ["10", "sub"], ["(FDR)", null]], 17);
</script>
</body>
</html>
